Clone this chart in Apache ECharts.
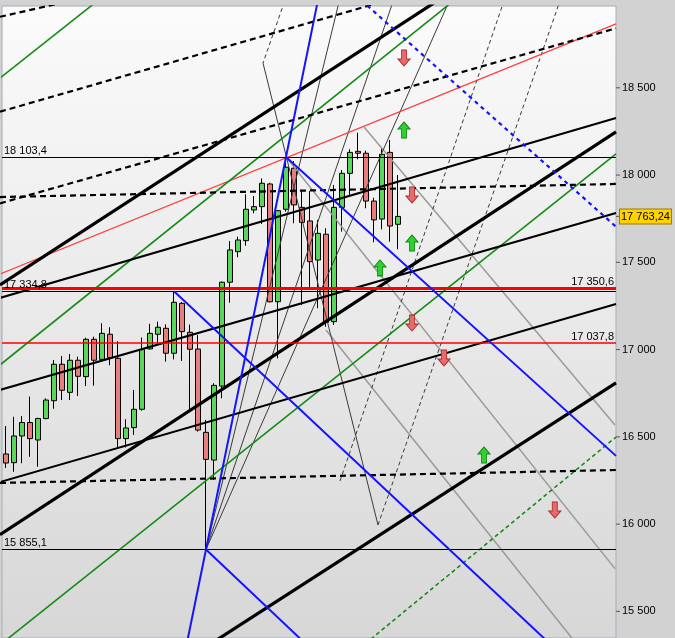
<!DOCTYPE html>
<html><head><meta charset="utf-8">
<script src="https://cdn.jsdelivr.net/npm/echarts@6/dist/echarts.min.js"></script>
<style>html,body{margin:0;padding:0;background:#d2d2d2}#c{width:675px;height:638px}</style>
</head><body><div id="c"></div><script>
// ---- candles (index, open, close, low, high) ----
const opens  = [16402,16352,16505,16582,16482,16605,16707,16916,16755,16939,16845,17059,16944,17088,16950,16490,16553,16658,17004,17088,17122,16979,17265,17099,17003,16526,16367,16791,17386,17561,17624,17800,17819,17949,17274,17804,18039,17815,17737,17513,17661,17160,17815,18010,18136,18125,17851,17748,18130,17718];
const closes = [16350,16505,16582,16490,16605,16711,16916,16767,16939,16847,17059,16939,17093,16954,16490,16551,16658,17000,17093,17128,16979,17271,17103,17002,16539,16371,16795,17386,17571,17628,17804,17819,17953,17274,17796,18045,17829,17729,17504,17666,17156,17815,18010,18130,18125,17851,17743,18119,17708,17763.24];
const lows   = [16322,16300,16349,16386,16329,16600,16661,16711,16711,16734,16791,16793,16940,16910,16439,16439,16511,16650,17000,17036,16931,16944,16935,16660,16530,15855.1,16253,16721,17269,17529,17595,17781,17720,17270,16950,17790,17724,17256,17342,17237,17131,17141,17676,17886,18090,17810,17615,17689,17618,17575];
const highs  = [16562,16615,16619,16731,16610,16721,16940,16963,16975,16959,17068,17074,17151,17128,17048,16601,16769,17069,17148,17160,17145,17334.8,17273,17143,17084,16597,16807,17390,17622,17647,17890,17880,17981,17956,17800,18103.4,18080,17908,17908,17743,17695,17943,18029,18148,18243,18140,17870,18153,18201,18000];
const lastPrice = 17763.24;

// ---- axis ticks ----
const yTicks = [15500,16000,16500,17000,17500,18000,18500];

// ---- horizontal levels ----
const levelValues = [18103.4, 17350.6, 17334.8, 17037.8, 15855.1];
const levelSides  = ['left','right','left','right','left'];
const levelKinds  = ['black','redThick','black','red','black'];

// ---- trend lines [x1, y1, x2, y2] in data units (candle index, price) ----
const redTrendLines = [[-0.75,17433, 76.25,18866]];
const dashedBlackLines = [
  [-0.75,18907, 11.75,19036],
  [-0.75,18363, 49.25,19022],
  [-0.75,17838, 76.25,18841],
  [-0.75,17874, 76.25,17949],
  [-0.75,16236, 76.25,16310]
];
const thickBlackLines = [
  [-0.75,17370, 56.75,19083],
  [-0.75,15939, 76.25,18247],
  [18,15090, 76.25,16809]
];
const blackLines = [
  [-0.75,17296, 76.25,18327],
  [-0.75,16769, 76.25,17783],
  [-0.75,16241, 76.25,17261]
];
const greenLines = [
  [-0.75,18556, 13,19055],
  [-0.75,16912, 58,19074],
  [-0.75,15308, 76.25,18121]
];
const greenDottedLines = [[44.25,15290, 76.25,16499]];
const blueLines = [
  [22.5,15293, 39.2,19048],
  [35,18103.4, 76.25,16391],
  [21,17334.8, 68,15314],
  [25,15855.1, 37,15334]
];
const blueDottedLines = [[43.66,19032, 76.25,17704]];
const grayLines = [
  [35,18103.4, 76.125,15745],
  [44.75,18275, 76.125,16568],
  [40,17112, 72,15275]
];
const thinLines = [
  [32.125,18642, 46.5,15995],
  [25,15855.1, 41.84,19032],
  [25,15855.1, 48.66,19032],
  [25,15855.1, 55.74,19032]
];
const thinDashedLines = [
  [35.1,19032, 32.125,18642],
  [46.5,15995, 69.5,19032],
  [41.75,16247, 62.5,19032]
];

// ---- signal arrows [index, price] ----
const redArrows = [[49.75,18671],[50.75,17886],[50.75,17152],[54.75,16952],[68.6,16081]];
const greenArrows = [[49.75,18258],[46.75,17468],[50.75,17611],[59.75,16396]];

function fmtNum(v, dec){
  const p = v.toFixed(dec).split('.');
  const i = p[0].replace(/\B(?=(\d{3})+(?!\d))/g, ' ');
  return p.length > 1 ? i + ',' + p[1] : i;
}

const candleData = opens.map((o,i)=>[i, o, closes[i], lows[i], highs[i]]);

const series = [{
  type:'candlestick', data: candleData, encode:{x:0, y:[1,2,3,4]},
  barWidth: 6, z: 2, silent:true,
  itemStyle:{color:'#5ad65a', color0:'#e87d7d', borderColor:'#000', borderColor0:'#000', borderWidth:1}
}];

function addLines(list, style, z){
  list.forEach(l=>{
    series.push({type:'line', data:[[l[0],l[1]],[l[2],l[3]]], symbol:'none', clip:true, silent:true,
      z: z, lineStyle: style, animation:false});
  });
}
addLines(grayLines, {color:'#9a9a9a', width:1.5}, 3);
addLines(thinLines, {color:'#3a3a3a', width:1}, 3);
addLines(thinDashedLines, {color:'#3a3a3a', width:1, type:[4,3]}, 3);
addLines(redTrendLines, {color:'#ff3b3b', width:1.2}, 4);
addLines(greenLines, {color:'#168a16', width:1.6}, 4);
addLines(greenDottedLines, {color:'#168a16', width:1.6, type:[4,3]}, 4);
addLines(blackLines, {color:'#000', width:2}, 4);
addLines(dashedBlackLines, {color:'#000', width:2.2, type:[6,4]}, 4);
addLines(thickBlackLines, {color:'#000', width:3.2}, 4);
addLines(blueLines, {color:'#1414ff', width:2}, 5);
addLines(blueDottedLines, {color:'#1414ff', width:2.2, type:[4,4]}, 5);

const levelStyle = {
  black:{color:'#000', width:1, type:'solid'},
  redThick:{color:'#ff0000', width:3, type:'solid'},
  red:{color:'#ff0000', width:1.5, type:'solid'}
};
series.push({
  type:'line', data:[], z:6, silent:true,
  markLine:{
    silent:true, symbol:['none','none'], animation:false,
    data: levelValues.map((v,i)=>({
      yAxis: v,
      lineStyle: levelStyle[levelKinds[i]],
      label:{show:true, position: levelSides[i]==='left' ? 'insideStartTop' : 'insideEndTop',
        formatter: fmtNum(v,1), color:'#000', fontSize:11, fontFamily:'Liberation Sans, Arial', distance:[2,1]}
    }))
  }
});

const upPath = 'path://M6,0 L12,7 L8.5,7 L8.5,16 L3.5,16 L3.5,7 L0,7 Z';
const downPath = 'path://M3.5,0 L8.5,0 L8.5,9 L12,9 L6,16 L0,9 L3.5,9 Z';
series.push({type:'scatter', data: redArrows, symbol: downPath, symbolSize:[12,16], z:7, silent:true,
  itemStyle:{color:'#e86a6a', borderColor:'#b03030', borderWidth:1, opacity:1}});
series.push({type:'scatter', data: greenArrows, symbol: upPath, symbolSize:[12,16], z:7, silent:true,
  itemStyle:{color:'#2ed12e', borderColor:'#138a13', borderWidth:1, opacity:1}});

const tickVals = yTicks.concat([lastPrice]);

const chart = echarts.init(document.getElementById('c'), null, {renderer:'canvas'});
chart.setOption({
  animation:false,
  backgroundColor:'#d2d2d2',
  grid:{left:2, right:59, top:6, bottom:0, show:true, borderWidth:1, borderColor:'#a3aebb',
    backgroundColor: new echarts.graphic.LinearGradient(0,0,0,1,[{offset:0,color:'#fbfbfb'},{offset:1,color:'#d7d7d7'}])},
  xAxis:{type:'value', min:-0.5, max:76.25, show:false},
  yAxis:{type:'value', position:'right', min:15347.5, max:18968.7,
    splitLine:{show:false},
    axisLine:{show:false},
    axisTick:{show:false},
    axisLabel:{customValues: tickVals, color:'#000', fontSize:11, fontFamily:'Liberation Sans, Arial', margin:0,
      formatter: v => Math.abs(v-lastPrice) < 0.01 ? '{tk|}{hl|' + fmtNum(v,2) + '}' : '{tk|}{sp|}' + fmtNum(v,0),
      rich:{
        tk:{width:4, height:1, backgroundColor:'#555'},
        sp:{width:2},
        hl:{backgroundColor:'#ffd200', borderColor:'#9a7a00', borderWidth:1, padding:[2,1,1,1], color:'#000', fontSize:11, fontFamily:'Liberation Sans, Arial'}
      }}
  },
  series: series
});
</script></body></html>
